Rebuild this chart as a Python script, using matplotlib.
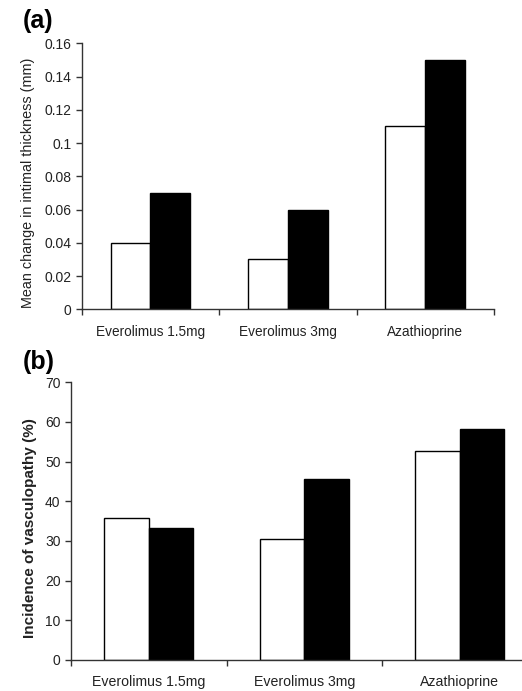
import numpy as np
import matplotlib
matplotlib.use("Agg")
import matplotlib.pyplot as plt

plt.rcParams['font.family'] = ['Liberation Sans', 'DejaVu Sans']

groups = ['Everolimus 1.5mg', 'Everolimus 3mg', 'Azathioprine']

# (a) mean change in intimal thickness (mm)
thick_white = [0.04, 0.03, 0.11]
thick_black = [0.07, 0.06, 0.15]

# (b) incidence of vasculopathy (%)
vasc_white = [35.7, 30.4, 52.6]
vasc_black = [33.3, 45.5, 58.3]

axis_col = '#333333'

fig = plt.figure(figsize=(5.22, 6.91), dpi=100)


def panel(ax, white, black, ymax, ystep, yfmt, bw, xfs):
    x = np.arange(len(groups)) + 0.5
    ax.bar(x - bw, white, bw, align='edge', color='white', edgecolor='black', linewidth=1.0)
    ax.bar(x, black, bw, align='edge', color='black', edgecolor='black', linewidth=1.0)
    ax.set_xlim(0, 3)
    ax.set_ylim(0, ymax)
    yt = np.arange(0, ymax + ystep / 2, ystep)
    ax.set_yticks(yt)
    ax.set_yticklabels([yfmt(v) for v in yt])
    ax.set_xticks([0, 1, 2, 3])
    ax.set_xticklabels([])
    ax.set_xticks(x, minor=True)
    ax.set_xticklabels(groups, minor=True)
    ax.tick_params(axis='x', which='minor', length=0, pad=11, labelsize=xfs, labelcolor='#222222')
    ax.tick_params(axis='x', which='major', length=4, color=axis_col, width=1)
    ax.tick_params(axis='y', length=4, color=axis_col, width=1, labelsize=10, labelcolor='#222222')
    for s in ['top', 'right']:
        ax.spines[s].set_visible(False)
    for s in ['left', 'bottom']:
        ax.spines[s].set_color(axis_col)
        ax.spines[s].set_linewidth(1)


def fmt_a(v):
    if abs(v) < 1e-9:
        return '0'
    s = '%.2f' % v
    return s.rstrip('0') if s.endswith('0') else s


ax1 = fig.add_axes([0.1565, 0.5524, 0.790, 0.385])
panel(ax1, thick_white, thick_black, 0.16, 0.02, fmt_a, 0.29, 9.8)
ax1.set_ylabel('Mean change in intimal thickness (mm)', fontsize=10.4, color='#222222')
ax1.yaxis.set_label_coords(-0.113, 0.477)

ax2 = fig.add_axes([0.136, 0.0449, 0.894, 0.4019])
panel(ax2, vasc_white, vasc_black, 70, 10, lambda v: '%d' % v, 0.286, 10.2)
ax2.set_ylabel('Incidence of vasculopathy (%)', fontsize=11, fontweight='bold', color='#222222')
ax2.yaxis.set_label_coords(-0.0735, 0.475)

fig.text(0.044, 0.969, '(a)', fontsize=18, fontweight='bold', va='center', ha='left')
fig.text(0.044, 0.476, '(b)', fontsize=18, fontweight='bold', va='center', ha='left')

fig.savefig('out.png', dpi=100)
